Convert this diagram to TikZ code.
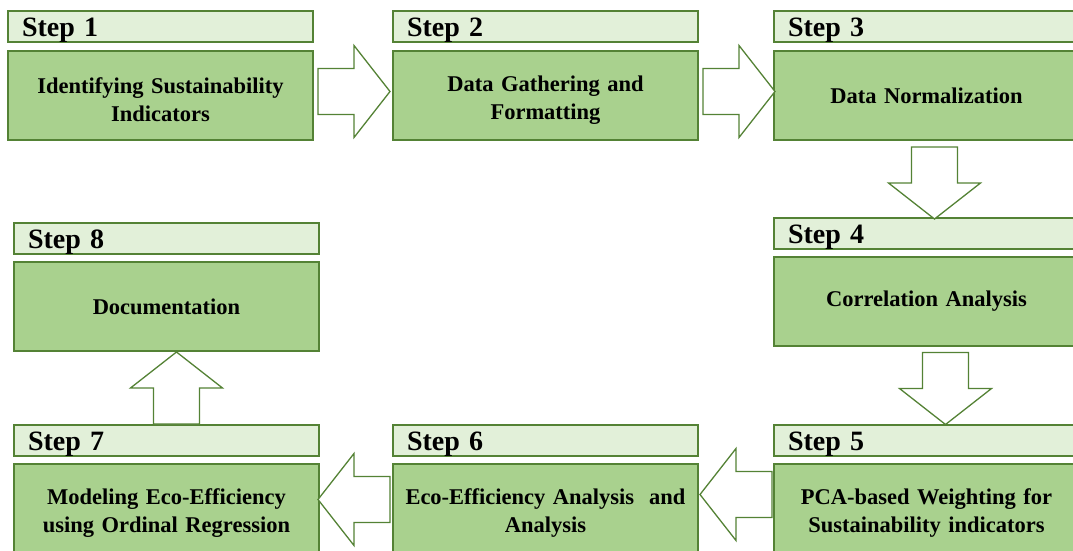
\documentclass[tikz,border=0pt]{standalone}
\usepackage{fontspec}
\setmainfont{Liberation Serif}
\usetikzlibrary{positioning,calc}
\definecolor{edgegreen}{HTML}{548235}
\definecolor{headgreen}{HTML}{E2F0D9}
\definecolor{bodygreen}{HTML}{A9D18E}
\tikzset{
    stephead/.style={draw=edgegreen, fill=headgreen, line width=1.6pt, outer sep=0pt,
        minimum width=305pt, minimum height=31pt, text width=277pt, inner xsep=14pt,
        inner ysep=0pt, text height=20pt, text depth=0pt, align=left, anchor=north west,
        font=\fontsize{28}{30}\selectfont\bfseries},
    stepbody/.style={draw=edgegreen, fill=bodygreen, line width=1.6pt, outer sep=0pt,
        minimum width=305pt, minimum height=89pt, text width=297pt, inner xsep=4pt,
        align=center, font=\fontsize{22.5}{28}\selectfont\bfseries},
    twoline/.style={execute at begin node={\rule{0pt}{24pt}}},
    fatarrow/.pic={
        \draw[draw=edgegreen, fill=white, line width=1.3pt]
            (-36,-23) -- (0,-23) -- (0,-46) -- (36,0) -- (0,46) -- (0,23) -- (-36,23) -- cycle;
    }
}

\begin{document}
\begin{tikzpicture}[x=1pt, y=-1pt]
    \useasboundingbox (0,0) rectangle (1073,551);

    \node[stephead] (s1head) at (8,11) {Step 1};
    \node[stepbody, twoline, below right=9pt and 0pt of s1head.south west] (s1body) {Identifying Sustainability\\Indicators};
    \node[stephead] (s2head) at (393,11) {Step 2};
    \node[stepbody, twoline, below right=9pt and 0pt of s2head.south west] (s2body) {Data Gathering and\\Formatting};
    \node[stephead] (s3head) at (774,11) {Step 3};
    \node[stepbody, below right=9pt and 0pt of s3head.south west] (s3body) {Data Normalization};
    \node[stephead] (s4head) at (774,218) {Step 4};
    \node[stepbody, below right=8pt and 0pt of s4head.south west] (s4body) {Correlation Analysis};
    \node[stephead] (s5head) at (774,425) {Step 5};
    \node[stepbody, twoline, below right=8pt and 0pt of s5head.south west] (s5body) {PCA-based Weighting for\\Sustainability indicators};
    \node[stephead] (s6head) at (393,425) {Step 6};
    \node[stepbody, twoline, below right=8pt and 0pt of s6head.south west] (s6body) {Eco-Efficiency Analysis~ and\\Analysis};
    \node[stephead] (s7head) at (14,425) {Step 7};
    \node[stepbody, twoline, below right=8pt and 0pt of s7head.south west] (s7body) {Modeling Eco-Efficiency\\using Ordinal Regression};
    \node[stephead] (s8head) at (14,223) {Step 8};
    \node[stepbody, below right=8pt and 0pt of s8head.south west] (s8body) {Documentation};

    \pic (a12) at ($(s1body.east)!0.5!(s2body.west)+(1,-4)$) {fatarrow};
    \pic (a23) at ($(s2body.east)!0.5!(s3body.west)+(3,-4)$) {fatarrow};
    \pic[rotate=-90] (a34) at ($(s3body.south)!0.5!(s4head.north)+(8,4)$) {fatarrow};
    \pic[rotate=-90] (a45) at ($(s4body.south)!0.5!(s5head.north)+(19,3)$) {fatarrow};
    \pic[rotate=180] (a56) at ($(s5body.west)!0.5!(s6body.east)+(0,-14)$) {fatarrow};
    \pic[rotate=180] (a67) at ($(s6body.west)!0.5!(s7body.east)+(-2,-9)$) {fatarrow};
    \pic[rotate=90] (a78) at ($(s7head.north)!0.5!(s8body.south)+(10,0)$) {fatarrow};
\end{tikzpicture}
\end{document}
